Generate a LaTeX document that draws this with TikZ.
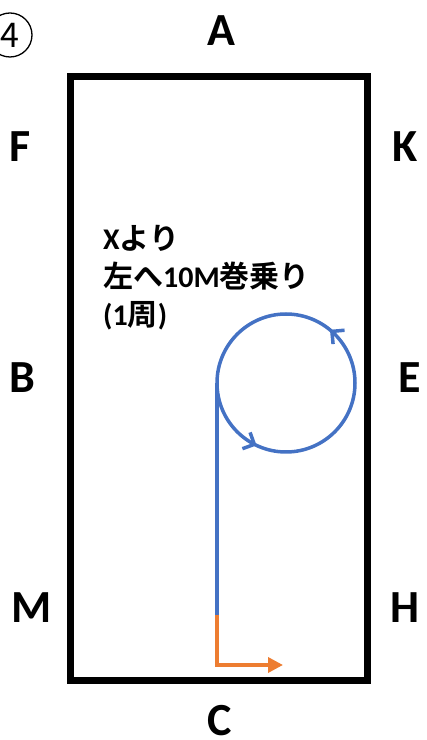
\documentclass[tikz,border=0pt]{standalone}
\usepackage{fontspec}
\setmainfont{Carlito}
\newfontfamily\jpfont{Noto Sans CJK JP}[BoldFont={Noto Sans CJK JP Bold}]
\usetikzlibrary{arrows.meta,decorations.markings,positioning}
\definecolor{voltblue}{RGB}{68,114,196}
\definecolor{startorange}{RGB}{237,125,49}
\tikzstyle{letter}=[font=\bfseries\fontsize{46}{50}\selectfont,inner sep=0pt]
\tikzstyle{note}=[font=\bfseries\fontsize{30}{34}\selectfont,inner sep=0pt,anchor=base west]
\tikzstyle{track}=[voltblue,line width=3.5pt]

\begin{document}
\begin{tikzpicture}[x=1pt,y=1pt]
        \useasboundingbox (0,0) rectangle (427,740);

        \node[draw,circle,line width=1.3pt,minimum size=44pt,inner sep=0pt,
          font=\jpfont\fontsize{34}{36}\selectfont] at (10,705) (num) {4};

        \draw[line width=7pt] (70,59) rectangle (367,663);

        \node[letter] at (221,709) (A) {A};
        \node[letter] at (20,593) (F) {F};
        \node[letter] at (405,593) (K) {K};
        \node[letter] at (22,362) (B) {B};
        \node[letter] at (410,362) (E) {E};
        \node[letter] at (32,132) (M) {M};
        \node[letter] at (405,132) (H) {H};
        \node[letter] at (220,19) (C) {C};

        \node[note] at (103,490) (line1) {X{\jpfont より}};
        \node[note] at (103,452) (line2) {{\jpfont 左へ}10M{\jpfont 巻乗り}};
        \node[note] at (103,414) (line3) {(1{\jpfont 周})};

        \coordinate (volte) at (286,357);
        \coordinate (turn) at (217,357);
        \coordinate (join) at (217,125);
        \coordinate (corner) at (217,75);
        \coordinate (go) at (283,75);

        \draw[track,postaction={decorate},decoration={markings,
          mark=at position 0.14 with {\arrow{Straight Barb[length=9pt,width=18pt]}},
          mark=at position 0.68 with {\arrow{Straight Barb[length=9pt,width=18pt]}}}]
          (volte) circle (69);
        \draw[track] (turn) -- (join);
        \draw[startorange,line width=3.5pt,-{Triangle[length=15pt,width=15pt]}]
          (join) -- (corner) -- (go);
      \end{tikzpicture}
\end{document}
